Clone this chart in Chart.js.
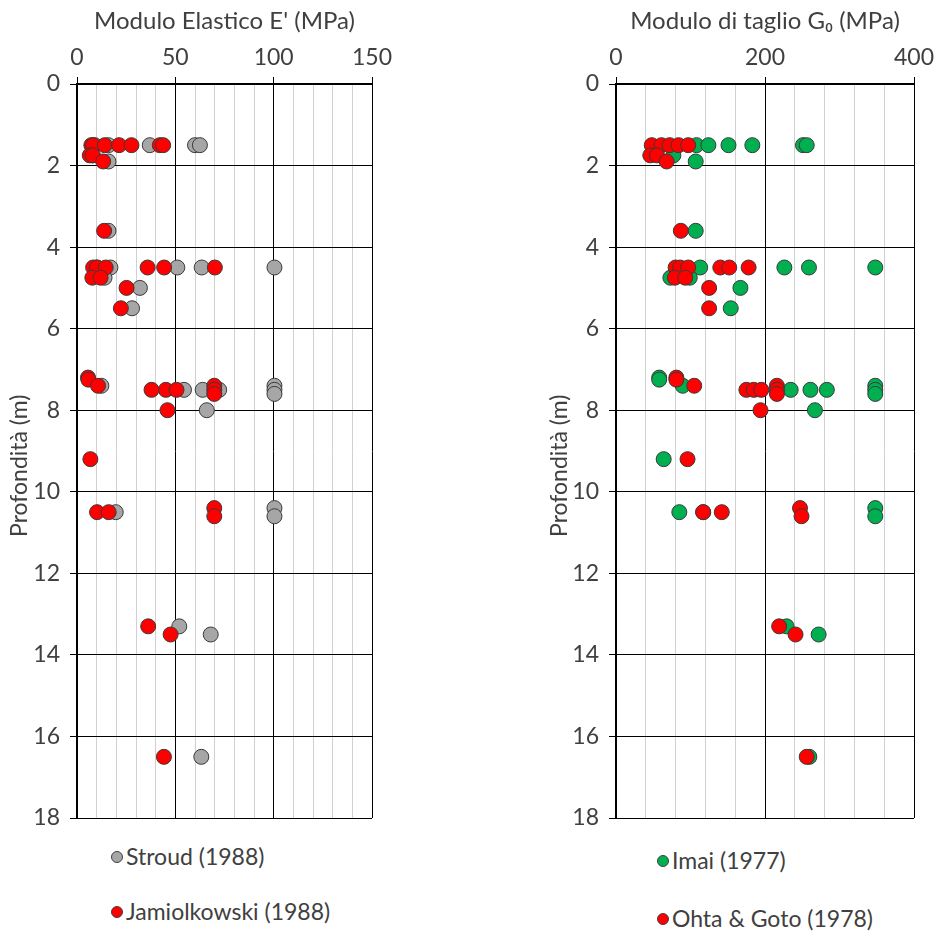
<!DOCTYPE html>
<html>
<head>
<meta charset="utf-8">
<script src="https://cdn.jsdelivr.net/npm/chart.js@4.4.1/dist/chart.umd.min.js"></script>
<style>
  html, body { margin: 0; padding: 0; background: #fff; }
  body { width: 937px; height: 934px; position: relative; overflow: hidden;
         font-family: "Century Gothic", "Lato", sans-serif; color: #404040; }
  .box { position: absolute; top: 0; height: 830px; }
  #boxE { left: 0; width: 470px; }
  #boxG { left: 540px; width: 397px; }
  .leg { position: absolute; font-size: 23px; white-space: nowrap; line-height: 24px; }
  .leg i { display: inline-block; width: 10px; height: 10px; border-radius: 50%;
           border: 1px solid #404040; margin-right: 3px; vertical-align: 2px; }
</style>
</head>
<body>
<div class="box" id="boxE"><canvas id="chartE"></canvas></div>
<div class="box" id="boxG"><canvas id="chartG"></canvas></div>

<div class="leg" style="left:111px; top:844px"><i style="background:#a6a6a6"></i>Stroud (1988)</div>
<div class="leg" style="left:111px; top:899px"><i style="background:#ff0000"></i>Jamiolkowski (1988)</div>
<div class="leg" style="left:657px; top:848px"><i style="background:#00b050"></i>Imai (1977)</div>
<div class="leg" style="left:657px; top:906px"><i style="background:#ff0000"></i>Ohta &amp; Goto (1978)</div>

<script>
// Modulo elastico E' (MPa) e profondità (m)
const stroudE = [9, 16, 37, 60, 62.5, 8, 16, 16, 10, 17, 51, 63.4, 100.4, 14, 32, 28,
                 12.4, 100.4, 54.4, 63.9, 72.3, 100.4, 100.4, 66, 100.4, 19.7, 100.4, 52, 68, 63.2];
const stroudZ = [1.5, 1.5, 1.5, 1.5, 1.5, 1.75, 1.9, 3.6, 4.5, 4.5, 4.5, 4.5, 4.5, 4.75, 5.0, 5.5,
                 7.4, 7.4, 7.5, 7.5, 7.5, 7.5, 7.6, 8.0, 10.4, 10.5, 10.6, 13.3, 13.5, 16.5];

const jamiolE = [7.3, 8.2, 14.1, 21.4, 27.7, 42.1, 43.8, 6.5, 8, 13.3, 13.8,
                 8.2, 10.2, 14.6, 35.9, 44.3, 70.1, 7.8, 12, 25.2, 22.3,
                 5.6, 5.8, 10.7, 69.8, 37.9, 45.2, 50.6, 69.8, 69.8, 46, 6.8,
                 69.8, 10.2, 16.1, 69.8, 36.2, 47.6, 44.2];
const jamiolZ = [1.5, 1.5, 1.5, 1.5, 1.5, 1.5, 1.5, 1.75, 1.75, 1.9, 3.6,
                 4.5, 4.5, 4.5, 4.5, 4.5, 4.5, 4.75, 4.75, 5.0, 5.5,
                 7.2, 7.25, 7.4, 7.4, 7.5, 7.5, 7.5, 7.5, 7.6, 8.0, 9.2,
                 10.4, 10.5, 10.5, 10.6, 13.3, 13.5, 16.5];

// Modulo di taglio G0 (MPa) e profondità (m)
const imaiG = [108, 124, 151, 183, 251, 256, 77, 107, 107, 113, 226, 259, 348, 73, 99, 167, 154,
               58, 58, 89.5, 348, 234.5, 261, 283, 348, 348, 267, 64, 348, 85, 117, 348, 229, 272, 259.5];
const imaiZ = [1.5, 1.5, 1.5, 1.5, 1.5, 1.5, 1.75, 1.9, 3.6, 4.5, 4.5, 4.5, 4.5, 4.75, 4.75, 5.0, 5.5,
               7.2, 7.25, 7.4, 7.4, 7.5, 7.5, 7.5, 7.5, 7.6, 8.0, 9.2, 10.4, 10.5, 10.5, 10.6, 13.3, 13.5, 16.5];

const ohtaG = [48, 61, 72, 84, 97, 46, 55, 68, 87, 80, 86, 97, 140, 152, 178, 79, 93, 125, 125,
               81, 81, 105, 216, 175, 185, 195, 216, 216, 194, 96, 247, 117, 142, 249, 219, 241, 256];
const ohtaZ = [1.5, 1.5, 1.5, 1.5, 1.5, 1.75, 1.75, 1.9, 3.6, 4.5, 4.5, 4.5, 4.5, 4.5, 4.5, 4.75, 4.75, 5.0, 5.5,
               7.2, 7.25, 7.4, 7.4, 7.5, 7.5, 7.5, 7.5, 7.6, 8.0, 9.2, 10.4, 10.5, 10.5, 10.6, 13.3, 13.5, 16.5];

const depthTicks = [0, 2, 4, 6, 8, 10, 12, 14, 16, 18];

const FONT = '"Century Gothic", "Lato", sans-serif';
const TEXT = '#404040';

const zip = (xs, ys) => xs.map((x, i) => ({ x: x, y: ys[i] }));

const pointSet = (label, xs, ys, color) => ({
    label: label,
    data: zip(xs, ys),
    backgroundColor: color,
    borderColor: '#3a3a3a',
    borderWidth: 1,
    pointRadius: 7.5,
    pointHoverRadius: 7.5
});

function makeChart(id, datasets, opts) {
    const canvas = document.getElementById(id);
    const box = canvas.parentNode;
    const W = box.clientWidth, H = box.clientHeight;
    return new Chart(canvas, {
        type: 'scatter',
        data: { datasets: datasets },
        options: {
            responsive: true,
            maintainAspectRatio: false,
            animation: false,
            events: [],
            layout: { padding: { left: 0, top: 0, right: W - opts.right, bottom: H - 818 } },
            plugins: { legend: { display: false }, tooltip: { enabled: false } },
            scales: {
                x: {
                    type: 'linear',
                    position: 'top',
                    min: 0,
                    max: opts.max,
                    afterFit: s => { s.height = 84; s.paddingLeft = 0; s.paddingRight = 0; },
                    afterBuildTicks: s => {
                        s.ticks = [];
                        for (let v = 0; v <= opts.max; v += opts.minor) s.ticks.push({ value: v });
                    },
                    title: {
                        display: true,
                        text: opts.title,
                        color: TEXT,
                        font: { family: FONT, size: 24 },
                        padding: { top: 7, bottom: 0 }
                    },
                    ticks: {
                        color: TEXT,
                        font: { family: FONT, size: 23 },
                        padding: 6,
                        maxRotation: 0,
                        autoSkip: false,
                        callback: v => (v % opts.major === 0 ? String(v) : '')
                    },
                    border: { display: true, color: '#000', width: 2 },
                    grid: {
                        drawTicks: true,
                        tickLength: 7,
                        lineWidth: 1,
                        color: c => (c.tick && c.tick.value % opts.major === 0 ? '#000' : '#d0d0d0'),
                        tickColor: c => (c.tick && c.tick.value % opts.major === 0 ? '#000' : 'rgba(0,0,0,0)')
                    }
                },
                y: {
                    type: 'linear',
                    reverse: true,
                    min: 0,
                    max: 18,
                    afterFit: s => { s.width = opts.left; s.paddingTop = 0; s.paddingBottom = 0; },
                    afterBuildTicks: s => { s.ticks = depthTicks.map(v => ({ value: v })); },
                    title: {
                        display: true,
                        text: 'Profondità (m)\u00a0\u00a0\u00a0\u00a0\u00a0',
                        color: TEXT,
                        font: { family: FONT, size: 23 },
                        padding: { top: 6, bottom: 0 }
                    },
                    ticks: {
                        color: TEXT,
                        font: { family: FONT, size: 23 },
                        padding: 10
                    },
                    border: { display: true, color: '#000', width: 2 },
                    grid: { color: '#000', lineWidth: 1, tickLength: 7, tickColor: '#000' }
                }
            }
        }
    });
}

makeChart('chartE', [
    pointSet('Jamiolkowski (1988)', jamiolE, jamiolZ, '#ff0000'),
    pointSet('Stroud (1988)', stroudE, stroudZ, '#a6a6a6')
], { max: 150, minor: 10, major: 50, left: 77, right: 372, title: "Modulo Elastico E' (MPa)" });

makeChart('chartG', [
    pointSet('Ohta & Goto (1978)', ohtaG, ohtaZ, '#ff0000'),
    pointSet('Imai (1977)', imaiG, imaiZ, '#00b050')
], { max: 400, minor: 40, major: 200, left: 76, right: 374, title: 'Modulo di taglio G₀ (MPa)' });
</script>
</body>
</html>
